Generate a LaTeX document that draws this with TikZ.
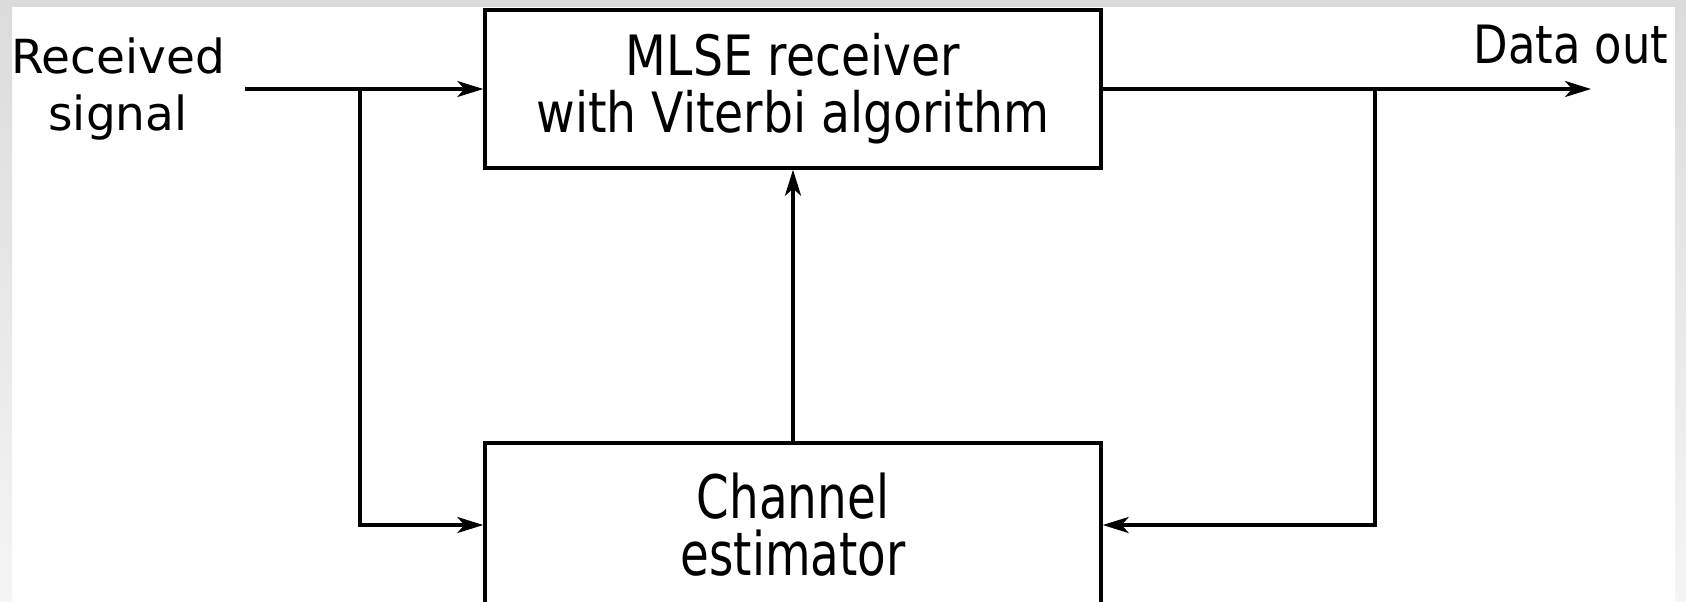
\documentclass[tikz,border=0pt]{standalone}
\usepackage{fontspec}
\setmainfont{DejaVu Sans}
\newfontfamily\condfont[FakeStretch=0.85]{DejaVu Sans}
\newfontfamily\narrowfont[FakeStretch=0.78]{DejaVu Sans}
\usetikzlibrary{arrows.meta,positioning}

\begin{document}
\begin{tikzpicture}[x=0.5pt,y=-0.5pt,
  block/.style={draw,line width=1.7pt,align=center,inner sep=0pt,
    minimum width=308pt},
  sig/.style={line width=1.7pt,-{Stealth[length=13pt,width=8pt,inset=3.5pt]}},
  label/.style={align=center,inner sep=0pt}]
\clip (0,0) rectangle (1686,601);
% grey frame round the page
\fill[black!14] (0,0) rectangle (1686,7);
\shade[top color=black!14,bottom color=black!4] (0,7) rectangle (12,601);
\shade[top color=black!14,bottom color=black!4] (1675,7) rectangle (1686,601);

\node[block,minimum height=79pt,font=\condfont\fontsize{27.8}{28.5}\selectfont]
  (mlse) at (793,89) {MLSE receiver\\with Viterbi algorithm};
\node[block,minimum height=82pt,font=\narrowfont\fontsize{30}{28.5}\selectfont]
  (chan) at (793,525) {Channel\\estimator};

\node[label,font=\fontsize{23.5}{28.5}\selectfont] (rx) at (118,89) {Received\\signal};
\node[label,font=\condfont\fontsize{26.4}{27}\selectfont] (dout) at (1571,45) {Data out};

\coordinate (in) at (245,89);
\coordinate (tapin) at (360,89);
\coordinate (tapout) at (1375,89);
\coordinate (out) at (1591,89);

\draw[sig] (in) -- (mlse.west);
\draw[sig] (tapin) |- (chan.west);
\draw[sig] (chan.north) -- (mlse.south);
\draw[sig] (mlse.east) -- (out);
\draw[sig] (tapout) |- (chan.east);
\end{tikzpicture}
\end{document}
